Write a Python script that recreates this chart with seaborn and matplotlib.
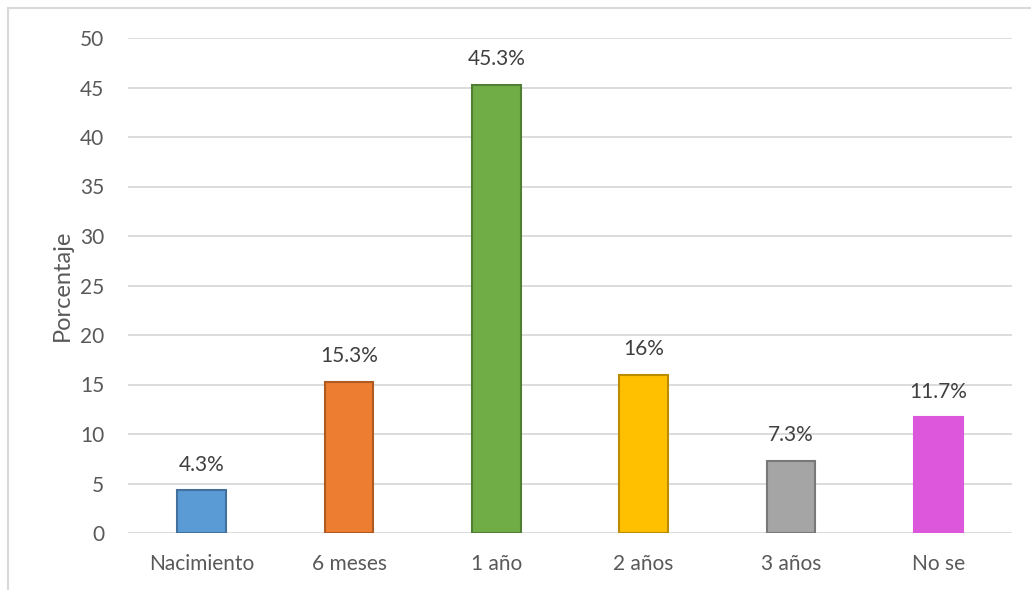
import matplotlib
matplotlib.use("Agg")
import matplotlib.pyplot as plt
import seaborn as sns
import pandas as pd
from matplotlib.patches import Rectangle

# data
categories = ["Nacimiento", "6 meses", "1 año", "2 años", "3 años", "No se"]
values = [4.3, 15.3, 45.3, 16, 7.3, 11.7]
labels = ["4.3%", "15.3%", "45.3%", "16%", "7.3%", "11.7%"]
colors = ["#5B9BD5", "#ED7D31", "#70AD47", "#FFC000", "#A5A5A5", "#DD57DC"]
edges = ["#41719C", "#AE5A21", "#507E32", "#BC8C00", "#787878", "#DD57DC"]

df = pd.DataFrame({"cat": categories, "val": values})

sns.set_style("white")
plt.rcParams["font.family"] = ["Lato", "DejaVu Sans"]
text_color = "#595959"

fig = plt.figure(figsize=(10.31, 5.9), dpi=100)
ax = fig.add_axes([128 / 1031, 1 - 533 / 590, 884 / 1031, 495 / 590])

sns.barplot(data=df, x="cat", y="val", hue="cat", palette=colors,
            saturation=1, width=0.33, legend=False, ax=ax, zorder=3)

for bar, ec in zip(ax.patches, edges):
    bar.set_edgecolor(ec)
    bar.set_linewidth(1.5)

for i, (v, lab) in enumerate(zip(values, labels)):
    ax.annotate(lab, (i, v), xytext=(0, 11), textcoords="offset points",
                ha="center", va="bottom", fontsize=15, color="#404040")

ax.set_ylim(0, 50)
ax.set_xlim(-0.5, 5.5)
ax.set_yticks(range(0, 51, 5))
ax.yaxis.grid(True, color="#D9D9D9", linewidth=1.3, zorder=0)
ax.set_axisbelow(True)
for s in ax.spines.values():
    s.set_visible(False)
ax.tick_params(axis="both", length=0, labelsize=15, labelcolor=text_color)
ax.tick_params(axis="y", pad=17)
ax.tick_params(axis="x", pad=15)
ax.set_xlabel("")
ax.set_ylabel("Porcentaje", fontsize=17, color=text_color, labelpad=5)

# outer chart border
fig.patches.append(Rectangle((8 / 1031, -0.1), 1.2, 1 - 8 / 590 + 0.1,
                             transform=fig.transFigure, fill=False,
                             edgecolor="#D9D9D9", linewidth=1.5))

fig.savefig("out.png", dpi=100)
